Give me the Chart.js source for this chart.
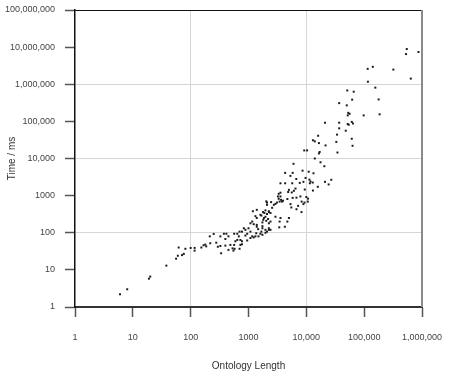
<!DOCTYPE html>
<html lang="en">
  <head>
    <meta charset="UTF-8" />
    <title>Time vs Ontology Length</title>
    <script src="https://cdn.jsdelivr.net/npm/chart.js@4.4.1/dist/chart.umd.min.js"></script>
    <style>
      body {
        margin: 0;
        background: #ffffff;
      }
      canvas {
        display: block;
      }
    </style>
  </head>
  <body>
    <canvas id="scatter" width="449" height="380"></canvas>

    <script>
      // data (log-log scatter)
      const ontologyLength = [
        6, 8, 19, 20, 38, 56, 60, 71, 76, 62, 81, 100, 117, 117, 153, 167, 179, 186, 214, 250, 218, 277, 295, 326, 336,
        326, 375, 415, 398, 398, 450, 450, 486, 550, 565, 530, 565, 640, 700, 680, 724, 640, 593, 770, 724, 700, 830, 884,
        770, 1000, 1080, 950, 1160, 1080, 1230, 1318, 1490, 1670, 1740, 1963, 2250, 1080, 1160, 1230, 1390, 1740, 1850,
        2180, 2250, 1390, 1190, 1608, 1880, 2250, 2090, 2030, 575, 884, 950, 770,
        3330, 3230, 3330, 3650, 3800, 3450, 3100, 2925, 3960, 4700, 6750, 5320, 5500, 6750, 7200, 8300, 10600, 9300, 8900,
        8250, 2460, 2090, 2740, 2560, 2250, 2400, 1963, 1780, 2090, 1670, 1390, 1318, 1963, 2400, 2030, 1800, 1740, 2925,
        3571, 3450, 4700, 5000, 4250, 3400, 2250, 2400, 1963, 1740, 1470, 1390, 1360, 1608, 2090,
        545000, 530000, 870000, 115000, 141000, 320000, 640000, 116000, 156000, 51000, 66000, 62000, 178000, 37000, 50000,
        53000, 56000, 52000, 98000, 185000, 21000, 37000, 52000, 64000, 54000, 61000, 37000, 48000, 16000, 13000, 14000,
        16500, 21500, 34000, 33000, 61000, 63000, 9200, 10300, 17000, 16500, 34500, 14000, 17600, 20500, 6000, 11000,
        13300, 4300, 5800, 8600, 5300, 6700, 9700, 8900, 7700, 11800, 12900, 15800, 21000, 24300, 27000, 3571, 4300, 5700,
        5000, 4850, 6100, 5600, 6500, 9400, 13000, 7900, 10000, 5800, 3571, 3571, 11300, 11500, 10700
      ];
      const timeMs = [
        2.2, 3, 5.8, 6.6, 13, 20, 24, 25, 27, 40, 37, 39, 39, 33, 40, 46, 48, 43, 80, 93, 52, 54, 42, 44, 28,
        80, 94, 94, 68, 45, 80, 34.5, 47, 33, 47, 38, 94, 94, 107, 80, 64, 64, 59, 59, 47, 37, 132, 120,
        107, 132, 107, 94, 80, 72, 75, 80, 80, 107, 88, 100, 120, 180, 200, 170, 163, 190, 250,
        235, 180, 414, 380, 304, 340, 380, 320, 700, 37, 84, 62, 49,
        1120, 950, 820, 770, 690, 690, 650, 600, 730, 810, 880, 590, 480, 430, 530, 690, 690, 650, 590,
        360, 670, 650, 565, 470, 360, 340, 400, 360, 565, 290, 250, 280, 270, 200, 210, 223, 150, 270,
        250, 200, 200, 250, 145, 140, 132, 120, 120, 132, 125, 145, 97, 94, 107,
        8900000, 6500000, 7400000, 2600000, 2950000, 2480000, 1420000, 1170000, 810000, 680000, 630000, 385000, 390000,
        310000, 270000, 170000, 160000, 145000, 145000, 155000, 92000, 92000, 85000, 88000, 81000, 97000, 65000, 56000,
        41000, 31000, 29000, 26000, 22500, 44000, 28000, 34000, 22000, 16500, 16500, 15000, 13700, 14500, 10000, 7900,
        6200, 7200, 4400, 4000, 4100, 4100, 4700, 3400, 2800, 3000, 2350, 2200, 2400, 2250, 1730, 2350, 2000, 2670, 2150,
        2150, 2150, 1430, 1250, 1350, 1220, 1550, 1460, 1370, 950, 920, 870, 1200, 950, 2700, 2150, 830
      ];

      const xTicks = [1, 10, 100, 1000, 10000, 100000, 1000000];
      const yTicks = [1, 10, 100, 1000, 10000, 100000, 1000000, 10000000, 100000000];
      const xGridAt = [100, 10000];
      const yGridAt = [100, 10000, 1000000];

      const points = ontologyLength.map((x, i) => ({ x: x, y: timeMs[i] }));

      function fmt(v) {
        return v >= 10000 ? v.toLocaleString("en-US") : String(v);
      }

      // top and right edges of the plot frame
      const framePlugin = {
        id: "frame",
        afterDraw(chart) {
          const { ctx, chartArea: a } = chart;
          ctx.save();
          ctx.strokeStyle = "#111";
          ctx.lineWidth = 1;
          ctx.beginPath();
          ctx.moveTo(a.left, a.top + 0.5);
          ctx.lineTo(a.right, a.top + 0.5);
          ctx.stroke();
          ctx.strokeStyle = "#8a8a8a";
          ctx.lineWidth = 2;
          ctx.beginPath();
          ctx.moveTo(a.right, a.top);
          ctx.lineTo(a.right, a.bottom);
          ctx.stroke();
          ctx.restore();
        },
      };

      new Chart(document.getElementById("scatter"), {
        type: "scatter",
        data: {
          datasets: [
            {
              data: points,
              pointStyle: "rect",
              pointRadius: 1.4,
              pointBorderWidth: 0,
              backgroundColor: "#1a1a1a",
              borderColor: "#1a1a1a",
            },
          ],
        },
        options: {
          responsive: false,
          animation: false,
          layout: { padding: { left: 0, right: 27, top: 10, bottom: 0 } },
          plugins: { legend: { display: false }, tooltip: { enabled: false } },
          scales: {
            x: {
              type: "logarithmic",
              min: 1,
              max: 1000000,
              afterBuildTicks: (axis) => {
                axis.ticks = xTicks.map((v) => ({ value: v }));
              },
              afterFit: (axis) => {
                axis.height = 73;
                axis.paddingLeft = 0;
                axis.paddingRight = 0;
              },
              border: { color: "#333", width: 2 },
              grid: {
                color: (c) => (c.tick && xGridAt.includes(c.tick.value) ? "#d6d6d6" : "rgba(0,0,0,0)"),
                tickColor: "#555",
                tickLength: 10,
                tickWidth: 1.5,
              },
              ticks: {
                autoSkip: false,
                maxRotation: 0,
                padding: 15,
                color: "#444",
                font: { family: "Liberation Sans, Arial, sans-serif", size: 9 },
                callback: (v) => fmt(v),
              },
              title: {
                display: true,
                text: "Ontology Length",
                color: "#333",
                font: { family: "Liberation Sans, Arial, sans-serif", size: 10 },
                padding: { top: 0, bottom: 8 },
              },
            },
            y: {
              type: "logarithmic",
              min: 1,
              max: 100000000,
              afterBuildTicks: (axis) => {
                axis.ticks = yTicks.map((v) => ({ value: v }));
              },
              afterFit: (axis) => {
                axis.width = 75;
                axis.paddingTop = 0;
                axis.paddingBottom = 0;
              },
              border: { color: "#111", width: 1.5 },
              grid: {
                color: (c) => (c.tick && yGridAt.includes(c.tick.value) ? "#d6d6d6" : "rgba(0,0,0,0)"),
                tickColor: "#555",
                tickLength: 10,
                tickWidth: 1.5,
              },
              ticks: {
                autoSkip: false,
                padding: 10,
                color: "#444",
                font: { family: "Liberation Sans, Arial, sans-serif", size: 9 },
                callback: (v) => fmt(v),
              },
              title: {
                display: true,
                text: "Time / ms",
                color: "#333",
                font: { family: "Liberation Sans, Arial, sans-serif", size: 10 },
                padding: { top: 6, bottom: 0 },
              },
            },
          },
        },
        plugins: [framePlugin],
      });
    </script>
  </body>
</html>
